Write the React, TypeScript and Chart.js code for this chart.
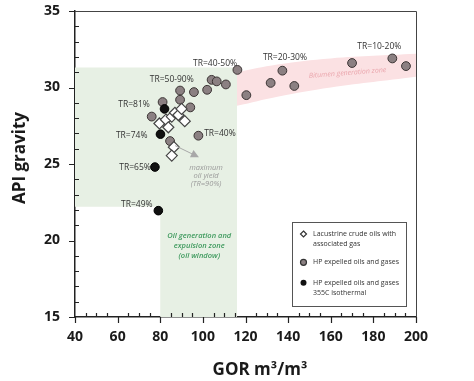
import React, { useEffect, useRef } from "react";
import { Chart, registerables } from "chart.js";
Chart.register(...registerables);

// ---- data ----
const lacustrineGOR = [79.6, 82.7, 83.8, 85.4, 86.9, 88.5, 90.0, 91.5, 86.4, 85.4];
const lacustrineAPI = [27.65, 27.9, 27.4, 28.1, 28.35, 28.2, 28.6, 27.8, 26.1, 25.55];

const hpGOR = [76.0, 81.1, 89.3, 89.3, 95.8, 102.0, 104.1, 106.5, 110.8, 116.2, 120.4, 94.1, 84.6, 97.9, 131.8, 137.3, 142.9, 170.0, 188.9, 195.3];
const hpAPI = [28.1, 29.05, 29.8, 29.2, 29.7, 29.85, 30.5, 30.4, 30.2, 31.15, 29.5, 28.7, 26.5, 26.85, 30.3, 31.1, 30.1, 31.6, 31.9, 31.4];

const isoGOR = [82.0, 80.1, 77.5, 79.1];
const isoAPI = [28.6, 26.95, 24.8, 21.95];

const oilWindowGOR = [40, 116, 116, 80, 80, 40];
const oilWindowAPI = [31.3, 31.3, 15, 15, 22.2, 22.2];

const bitumenGOR = [116, 135, 160, 200];
const bitumenTop = [31.0, 31.5, 31.9, 32.2];
const bitumenBottom = [28.8, 29.4, 30.0, 30.7];

const trText = ["TR=40-50%", "TR=50-90%", "TR=81%", "TR=74%", "TR=65%", "TR=40%", "TR=49%", "TR=20-30%", "TR=10-20%"];
const trGOR = [105.7, 85.4, 67.7, 66.6, 68.2, 108.0, 69.0, 138.5, 182.8];
const trAPI = [31.58, 30.54, 28.86, 26.83, 24.76, 27.0, 22.37, 31.97, 32.67];

const arrowGOR = [87.0, 97.3];
const arrowAPI = [26.2, 25.5];

const xMin = 40, xMax = 200, xMajor = 20, xMinor = 5;
const yMin = 15, yMax = 35, yMajor = 5, yMinor = 1;

const FONT = "'Open Sans', 'DejaVu Sans', sans-serif";

const pts = (xs: number[], ys: number[]) => xs.map((x, i) => ({ x, y: ys[i] }));

const decorPlugin = {
  id: "decor",
  beforeDatasetsDraw(chart: any) {
    const { ctx, scales } = chart;
    const xs = scales.x, ys = scales.y;
    ctx.save();
    ctx.fillStyle = "#e7f0e4";
    ctx.beginPath();
    oilWindowGOR.forEach((g, i) => {
      const px = xs.getPixelForValue(g), py = ys.getPixelForValue(oilWindowAPI[i]);
      if (i === 0) ctx.moveTo(px, py); else ctx.lineTo(px, py);
    });
    ctx.closePath();
    ctx.fill();
    ctx.restore();
  },
  afterDatasetsDraw(chart: any) {
    const { ctx, scales } = chart;
    const xs = scales.x, ys = scales.y;
    ctx.save();
    ctx.font = `8.5px ${FONT}`;
    ctx.fillStyle = "#333";
    ctx.textAlign = "center";
    ctx.textBaseline = "middle";
    trText.forEach((t, i) => {
      ctx.fillText(t, xs.getPixelForValue(trGOR[i]), ys.getPixelForValue(trAPI[i]));
    });
    const x0 = xs.getPixelForValue(arrowGOR[0]), y0 = ys.getPixelForValue(arrowAPI[0]);
    const x1 = xs.getPixelForValue(arrowGOR[1]), y1 = ys.getPixelForValue(arrowAPI[1]);
    const ang = Math.atan2(y1 - y0, x1 - x0);
    ctx.strokeStyle = "#a8a8a8";
    ctx.fillStyle = "#a8a8a8";
    ctx.lineWidth = 1;
    ctx.beginPath();
    ctx.moveTo(x0, y0);
    ctx.lineTo(x1 - 5 * Math.cos(ang), y1 - 5 * Math.sin(ang));
    ctx.stroke();
    ctx.beginPath();
    ctx.moveTo(x1 + 2 * Math.cos(ang), y1 + 2 * Math.sin(ang));
    ctx.lineTo(x1 - 6 * Math.cos(ang) + 4 * Math.sin(ang), y1 - 6 * Math.sin(ang) - 4 * Math.cos(ang));
    ctx.lineTo(x1 - 6 * Math.cos(ang) - 4 * Math.sin(ang), y1 - 6 * Math.sin(ang) + 4 * Math.cos(ang));
    ctx.closePath();
    ctx.fill();
    ctx.font = `italic 7.5px ${FONT}`;
    ctx.fillStyle = "#9a9a9a";
    const mx = xs.getPixelForValue(101.5), my = ys.getPixelForValue(24.76);
    ["maximum", "oil yield", "(TR=90%)"].forEach((t, i) => ctx.fillText(t, mx, my + i * 8.2));
    ctx.font = `italic 600 7.5px ${FONT}`;
    ctx.fillStyle = "#3f9a5e";
    const gx = xs.getPixelForValue(98.3), gy = ys.getPixelForValue(20.3);
    ["Oil generation and", "expulsion zone", "(oil window)"].forEach((t, i) => ctx.fillText(t, gx, gy + i * 10));
    ctx.save();
    ctx.translate(xs.getPixelForValue(167.9), ys.getPixelForValue(30.95));
    ctx.rotate(-4.5 * Math.PI / 180);
    ctx.font = `italic 7px ${FONT}`;
    ctx.fillStyle = "#eaa5ac";
    ctx.fillText("Bitumen generation zone", 0, 0);
    ctx.restore();
    ctx.restore();
  },
  afterDraw(chart: any) {
    const { ctx, scales, chartArea: a } = chart;
    const xs = scales.x, ys = scales.y;
    ctx.save();
    ctx.strokeStyle = "#444";
    ctx.lineWidth = 1;
    ctx.beginPath();
    ctx.moveTo(a.left, a.top + 0.5);
    ctx.lineTo(a.right + 0.5, a.top + 0.5);
    ctx.lineTo(a.right + 0.5, a.bottom);
    ctx.stroke();
    ctx.strokeStyle = "#222";
    ctx.lineWidth = 1.2;
    ctx.beginPath();
    for (let v = xMin; v <= xMax + 1e-9; v += xMinor) {
      const px = Math.round(xs.getPixelForValue(v)) + 0.5;
      if (Math.abs(v % xMajor) < 1e-9) { ctx.moveTo(px, a.bottom); ctx.lineTo(px, a.bottom + 6); }
      else { ctx.moveTo(px, a.bottom); ctx.lineTo(px, a.bottom - 4); }
    }
    for (let v = yMin; v <= yMax + 1e-9; v += yMinor) {
      const py = Math.round(ys.getPixelForValue(v)) + 0.5;
      if (Math.abs(v % yMajor) < 1e-9) { ctx.moveTo(a.left, py); ctx.lineTo(a.left - 6, py); }
      else { ctx.moveTo(a.left, py); ctx.lineTo(a.left + 4, py); }
    }
    ctx.stroke();
    ctx.fillStyle = "#1a1a1a";
    ctx.textAlign = "center";
    ctx.textBaseline = "middle";
    ctx.font = `bold 17px ${FONT}`;
    ctx.fillText("GOR m\u00B3/m\u00B3", 260, 370);
    ctx.save();
    ctx.translate(20, 158);
    ctx.rotate(-Math.PI / 2);
    ctx.fillText("API gravity", 0, 0);
    ctx.restore();
    const lx = 292, ly = 222, lw = 114, lh = 84;
    ctx.fillStyle = "#fff";
    ctx.fillRect(lx, ly, lw, lh);
    ctx.strokeStyle = "#555";
    ctx.lineWidth = 1;
    ctx.strokeRect(lx + 0.5, ly + 0.5, lw, lh);
    ctx.font = `7px ${FONT}`;
    ctx.textAlign = "left";
    ctx.fillStyle = "#333";
    const mxl = 303.5;
    ctx.beginPath();
    ctx.moveTo(mxl, 231); ctx.lineTo(mxl + 3, 234); ctx.lineTo(mxl, 237); ctx.lineTo(mxl - 3, 234); ctx.closePath();
    ctx.fillStyle = "#fff"; ctx.fill(); ctx.strokeStyle = "#333"; ctx.lineWidth = 1.2; ctx.stroke();
    ctx.fillStyle = "#333";
    ctx.fillText("Lacustrine crude oils with", 313, 234);
    ctx.fillText("associated gas", 313, 243.5);
    ctx.beginPath(); ctx.arc(mxl, 262.3, 3, 0, Math.PI * 2);
    ctx.fillStyle = "#8b8082"; ctx.fill(); ctx.strokeStyle = "#333"; ctx.stroke();
    ctx.fillStyle = "#333";
    ctx.fillText("HP expelled oils and gases", 313, 262.3);
    ctx.beginPath(); ctx.arc(mxl, 282.7, 3, 0, Math.PI * 2);
    ctx.fillStyle = "#111"; ctx.fill();
    ctx.fillStyle = "#333";
    ctx.fillText("HP expelled oils and gases", 313, 282.7);
    ctx.fillText("355C isothermal", 313, 293.3);
    ctx.restore();
  },
};

export default function App() {
  const ref = useRef<HTMLCanvasElement>(null);
  useEffect(() => {
    document.body.style.margin = "0";
    const chart = new Chart(ref.current!, {
      type: "scatter",
      data: {
        datasets: [
          {
            label: "Lacustrine crude oils with associated gas",
            data: pts(lacustrineGOR, lacustrineAPI),
            pointStyle: "rectRot",
            pointRadius: 5.5,
            backgroundColor: "#ffffff",
            borderColor: "#444",
            borderWidth: 1.2,
            order: 0,
          },
          {
            label: "HP expelled oils and gases 355C isothermal",
            data: pts(isoGOR, isoAPI),
            pointRadius: 4.3,
            backgroundColor: "#111",
            borderColor: "#000",
            borderWidth: 1,
            order: 1,
          },
          {
            label: "HP expelled oils and gases",
            data: pts(hpGOR, hpAPI),
            pointRadius: 4.4,
            backgroundColor: "#8b8082",
            borderColor: "#3b3434",
            borderWidth: 1,
            order: 2,
          },
          {
            label: "bitumenTop",
            data: pts(bitumenGOR, bitumenTop),
            showLine: true,
            tension: 0.4,
            pointRadius: 0,
            borderWidth: 0,
            borderColor: "rgba(0,0,0,0)",
            backgroundColor: "#fbe1e3",
            fill: "+1",
            order: 10,
          } as any,
          {
            label: "bitumenBottom",
            data: pts(bitumenGOR, bitumenBottom),
            showLine: true,
            tension: 0.4,
            pointRadius: 0,
            borderWidth: 0,
            borderColor: "rgba(0,0,0,0)",
            fill: false,
            order: 11,
          } as any,
        ],
      },
      options: {
        animation: false,
        responsive: false,
        maintainAspectRatio: false,
        layout: { padding: { top: 11, right: 58, left: 0, bottom: 0 } },
        plugins: { legend: { display: false }, tooltip: { enabled: false } },
        scales: {
          x: {
            type: "linear",
            min: xMin,
            max: xMax,
            grid: { display: false, drawTicks: false },
            border: { display: true, color: "#222", width: 1.5 },
            ticks: { stepSize: xMajor, padding: 12, color: "#1a1a1a", font: { family: FONT, size: 14, weight: "bold" } },
            afterFit: (s: any) => { s.height = 64; s.paddingLeft = 0; s.paddingRight = 0; },
          },
          y: {
            min: yMin,
            max: yMax,
            grid: { display: false, drawTicks: false },
            border: { display: true, color: "#222", width: 1.5 },
            ticks: { stepSize: yMajor, padding: 15, color: "#1a1a1a", font: { family: FONT, size: 14, weight: "bold" } },
            afterFit: (s: any) => { s.width = 75; s.paddingTop = 0; s.paddingBottom = 0; },
          },
        },
      },
      plugins: [decorPlugin],
    } as any);
    return () => chart.destroy();
  }, []);
  return <canvas ref={ref} width={474} height={381} style={{ display: "block" }} />;
}
